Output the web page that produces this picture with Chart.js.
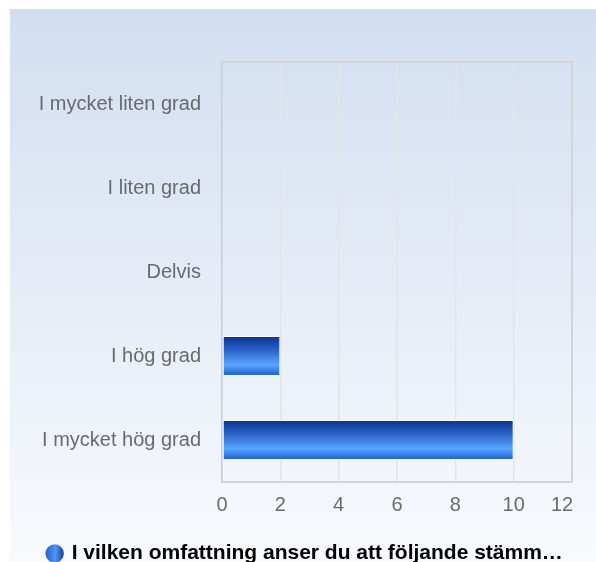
<!DOCTYPE html>
<html>
<head>
<meta charset="utf-8">
<script src="https://cdn.jsdelivr.net/npm/chart.js@4"></script>
<style>
html,body{margin:0;padding:0;background:#fff;}
#wrap{width:596px;height:562px;}
</style>
</head>
<body>
<div id="wrap"><canvas id="c" width="596" height="562"></canvas></div>
<script>
const categories = ["I mycket liten grad", "I liten grad", "Delvis", "I hög grad", "I mycket hög grad"];
const values = [0, 0, 0, 2, 10];
const xTickValues = [0, 2, 4, 6, 8, 10, 12];
const seriesLabel = "I vilken omfattning anser du att följande stämm…";

const FONT = "'Liberation Sans', Arial, sans-serif";

const bgPlugin = {
  id: 'bg',
  beforeDraw(chart) {
    const c = chart.ctx;
    const g = c.createLinearGradient(0, 9, 0, 562);
    g.addColorStop(0, '#d2def0');
    g.addColorStop(1, '#f8fafd');
    c.save();
    c.fillStyle = g;
    c.fillRect(10, 9, 586, 553);
    c.restore();
  },
  afterDatasetsDraw(chart) {
    const c = chart.ctx, a = chart.chartArea;
    c.save();
    c.strokeStyle = '#d2d4d8';
    c.lineWidth = 2;
    c.beginPath();
    c.moveTo(a.left, a.top);
    c.lineTo(a.right, a.top);
    c.lineTo(a.right, a.bottom);
    c.stroke();
    c.restore();
  }
};

function barGradient(ctx) {
  const chart = ctx.chart;
  if (!chart.chartArea || !chart.scales.y) return '#1e62d0';
  const ys = chart.scales.y;
  const y = ys.getPixelForValue(ctx.dataIndex);
  const h = (ys.height / categories.length) * 0.477;
  const g = chart.ctx.createLinearGradient(0, y - h / 2, 0, y + h / 2);
  g.addColorStop(0, '#0a318c');
  g.addColorStop(0.35, '#2a62c8');
  g.addColorStop(0.72, '#5aa6ff');
  g.addColorStop(1, '#1a5ccc');
  return g;
}

const chart = new Chart(document.getElementById('c'), {
  type: 'bar',
  data: {
    labels: categories,
    datasets: [{
      label: seriesLabel,
      data: values,
      backgroundColor: barGradient,
      borderColor: '#ffffff',
      borderWidth: 1,
      borderSkipped: false,
      barPercentage: 0.477,
      categoryPercentage: 1.0
    }]
  },
  plugins: [bgPlugin],
  options: {
    indexAxis: 'y',
    responsive: false,
    animation: false,
    devicePixelRatio: 1,
    layout: { padding: { left: 39, top: 62, right: 24, bottom: -12 } },
    scales: {
      x: {
        min: 0, max: 12,
        afterBuildTicks(scale) { scale.ticks = xTickValues.map(v => ({ value: v })); },
        afterFit(scale) { scale.height = 61; scale.paddingRight = 0; scale.paddingLeft = 0; },
        grid: { color: '#e3e4e6', lineWidth: 1.5, drawTicks: false },
        border: { color: '#d2d4d8', width: 2 },
        ticks: {
          padding: 11,
          color: '#6a6a6a',
          font: { family: FONT, size: 20 },
          callback(v) { return v === 12 ? '12\u2002\u2002' : String(v); }
        }
      },
      y: {
        afterFit(scale) { scale.width = 183; scale.paddingTop = 0; scale.paddingBottom = 0; },
        grid: { display: false, drawTicks: false },
        border: { color: '#c3cde0', width: 1.5 },
        ticks: {
          padding: 21,
          color: '#6a6a6a',
          font: { family: FONT, size: 20 }
        }
      }
    },
    plugins: {
      legend: {
        position: 'bottom',
        labels: {
          padding: 0,
          usePointStyle: true,
          boxWidth: 13,
          boxHeight: 13,
          color: '#333333',
          font: { family: FONT, size: 21, weight: 'bold' },
          generateLabels(ch) {
            const g = ch.ctx.createLinearGradient(45, 0, 64, 0);
            g.addColorStop(0, '#1f5fd0');
            g.addColorStop(0.55, '#4f95f5');
            g.addColorStop(1, '#0f3c9c');
            return [{
              text: seriesLabel,
              fillStyle: g,
              strokeStyle: 'rgba(0,0,0,0)',
              lineWidth: 0,
              pointStyle: 'circle',
              datasetIndex: 0,
              hidden: false
            }];
          }
        }
      },
      tooltip: { enabled: false }
    }
  }
});
</script>
</body>
</html>
